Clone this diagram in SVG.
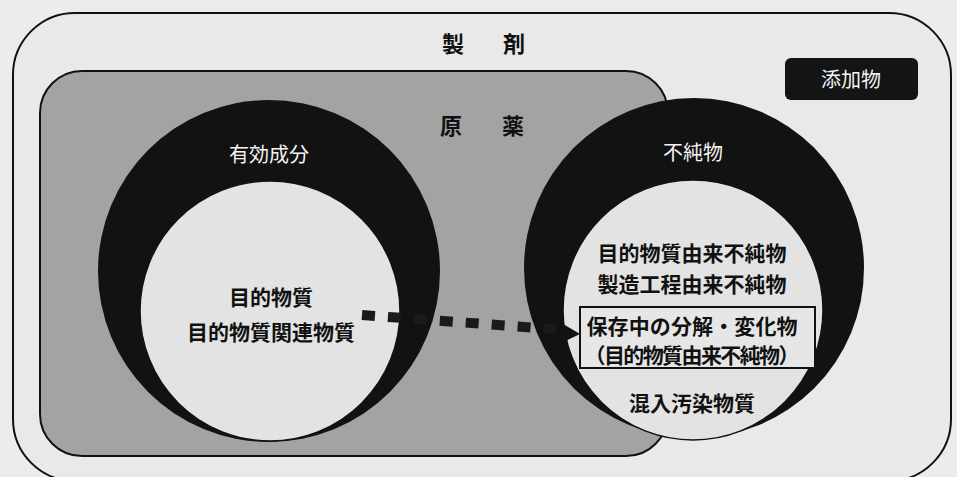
<svg xmlns="http://www.w3.org/2000/svg" width="957" height="477" viewBox="0 0 957 477">
  <style>
    .jp { font-family: "Noto Sans CJK JP", "Noto Sans CJK SC", sans-serif; }
    .lbl { font-size: 21px; fill: #111; font-weight: bold; text-anchor: middle; }
    .wlbl { font-size: 20px; fill: #f4f4f4; text-anchor: middle; }
    .title { font-size: 22px; fill: #111; font-weight: bold; }
    .ring { fill: #121212; }
    .core { fill: #e3e3e3; stroke: #121212; stroke-width: 1.5; }
  </style>
  <rect x="0" y="0" width="957" height="477" fill="#ececec"/>

  <g id="seizai">
    <rect x="13" y="13" width="938" height="468" rx="62" ry="62" fill="#e9e9e9" stroke="#111" stroke-width="2"/>
    <text class="jp title" x="442" y="52" letter-spacing="8.5">製　剤</text>
  </g>

  <g id="tenkabutsu">
    <rect x="785" y="58" width="133" height="42" rx="6" ry="6" fill="#141414"/>
    <text class="jp wlbl" x="851" y="87">添加物</text>
  </g>

  <g id="genyaku">
    <rect x="40" y="71" width="628" height="385" rx="42" ry="42" fill="#a3a3a3" stroke="#111" stroke-width="2"/>
    <text class="jp title" x="440" y="134" letter-spacing="9">原　薬</text>
  </g>

  <g id="yukou-seibun">
    <circle class="ring" cx="269" cy="271" r="171"/>
    <circle class="core" cx="270" cy="311" r="130"/>
    <text class="jp wlbl" x="269" y="162">有効成分</text>
    <text class="jp lbl" x="271" y="305">目的物質</text>
    <text class="jp lbl" x="271" y="340">目的物質関連物質</text>
  </g>

  <g id="fujunbutsu">
    <circle class="ring" cx="694" cy="268" r="170"/>
    <circle class="core" cx="693" cy="310" r="130"/>
    <text class="jp wlbl" x="693" y="160">不純物</text>
    <text class="jp lbl" x="692" y="261">目的物質由来不純物</text>
    <text class="jp lbl" x="692" y="292">製造工程由来不純物</text>
    <g id="bunkai">
      <rect x="580" y="307" width="235" height="61" fill="#e6e6e6" stroke="#111" stroke-width="2"/>
      <text class="jp lbl" x="692" y="334" textLength="211" lengthAdjust="spacing">保存中の分解・変化物</text>
      <text class="jp lbl" x="692" y="363" textLength="215" lengthAdjust="spacing">（目的物質由来不純物）</text>
    </g>
    <text class="jp lbl" x="692" y="411">混入汚染物質</text>
  </g>

  <g id="connectors">
    <path d="M362,315 L566,330" fill="none" stroke="#1a1a1a" stroke-width="10" stroke-dasharray="13 13"/>
    <polygon points="558,321 580,334 557,345" fill="#121212"/>
  </g>
</svg>
